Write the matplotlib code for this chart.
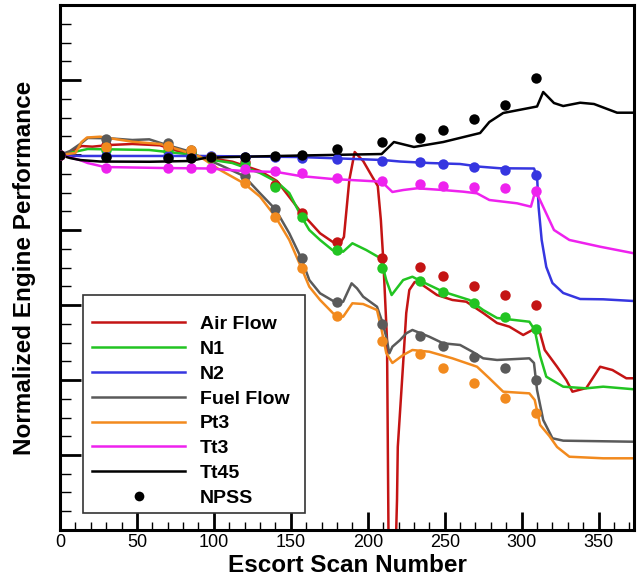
import matplotlib
matplotlib.use("Agg")
import matplotlib.pyplot as plt
from matplotlib.patches import Rectangle
from matplotlib.ticker import MultipleLocator, NullFormatter

plt.rcParams['font.family'] = ['Liberation Sans', 'DejaVu Sans']

# ---------------- data ----------------
airflow_x = [0, 5, 14, 21, 32, 47, 65, 78, 91, 112, 130, 141, 157, 169, 177, 182, 184.5, 188, 191.5, 197,
             203, 206.5, 208.5, 210, 211, 212.5, 214, 216.5, 219, 219.5, 223, 225, 227, 230.5, 234, 245, 255,
             264, 275, 284, 292, 301, 307, 312, 315, 323, 329, 333, 342, 351, 359, 368, 373]
airflow_y = [1.0, 1.0027, 1.012, 1.0111, 1.0133, 1.0147, 1.0129, 1.0044, 0.9977, 0.9911, 0.9787, 0.9653,
             0.9227, 0.8956, 0.8844, 0.8822, 0.8907, 0.9667, 1.004, 0.992, 0.9707, 0.9587, 0.9133, 0.8627,
             0.82, 0.7533, 0.35, 0.35, 0.54, 0.6107, 0.7227, 0.7893, 0.82, 0.8307, 0.8289, 0.8133, 0.8067,
             0.8044, 0.7893, 0.776, 0.7711, 0.76, 0.7667, 0.7623, 0.74, 0.7177, 0.7, 0.6844, 0.6893, 0.7177,
             0.7133, 0.7023, 0.7023]

n1_x = [0, 18, 58, 82, 95, 112, 130, 141, 149, 157, 162, 169, 177, 184, 190, 199, 208, 210, 212, 215.5,
        219, 223, 229, 234, 249, 266, 275, 284, 305, 308.5, 312, 316, 327, 342, 353, 373]
n1_y = [1.0, 1.008, 1.0067, 1.0013, 0.9947, 0.9893, 0.976, 0.964, 0.9493, 0.9173, 0.9, 0.8867, 0.8733,
        0.8711, 0.8823, 0.8733, 0.8627, 0.8493, 0.8333, 0.8133, 0.8227, 0.8333, 0.8377, 0.8324, 0.8177,
        0.8067, 0.7933, 0.7827, 0.7777, 0.7667, 0.732, 0.7044, 0.6911, 0.6889, 0.6911, 0.6876]

n2_x = [0, 13, 91, 156, 210, 221, 240, 260, 273, 286, 308, 310, 311, 313, 316, 320, 327, 338, 353, 373]
n2_y = [1.0, 0.9987, 0.9987, 0.9973, 0.9933, 0.9913, 0.9893, 0.988, 0.9844, 0.9823, 0.982, 0.972, 0.9307,
        0.8867, 0.8507, 0.8293, 0.816, 0.808, 0.8076, 0.8053]

fuel_x = [0, 6.5, 14, 18, 32, 47, 58, 69.5, 82.5, 91, 104, 119.5, 130, 140, 149, 157, 162, 169, 179, 184,
          189.5, 193, 197, 206, 209, 212, 214, 216, 221, 225, 229, 240, 249, 260, 268, 275, 284, 305, 308,
          310, 314, 320, 327, 373]
fuel_y = [1.0, 1.0053, 1.016, 1.0227, 1.0223, 1.02, 1.0209, 1.0133, 1.0057, 0.9977, 0.9867, 0.972, 0.9489,
          0.9276, 0.8956, 0.8613, 0.8333, 0.8156, 0.8036, 0.8044, 0.8289, 0.8222, 0.8111, 0.7977, 0.78,
          0.7577, 0.7356, 0.7444, 0.7533, 0.7622, 0.7667, 0.7577, 0.7489, 0.7467, 0.7377, 0.7289, 0.7267,
          0.7289, 0.7227, 0.6867, 0.6467, 0.6223, 0.6191, 0.6177]

pt3_x = [0, 10, 14, 17.5, 26, 47, 65, 78, 91, 104, 119.5, 130, 140, 149, 157, 162, 169, 179, 184, 190, 197,
         206, 209, 212, 216, 223, 229, 240, 255, 271, 279, 288, 305, 308.5, 312, 318, 323, 331, 353, 373]
pt3_y = [1.0, 1.0027, 1.0173, 1.0233, 1.0244, 1.0177, 1.0147, 1.0067, 0.9977, 0.98, 0.9623, 0.9444, 0.9177,
         0.8867, 0.8489, 0.8244, 0.8067, 0.7857, 0.7844, 0.8023, 0.8013, 0.7933, 0.7667, 0.736, 0.7227,
         0.7333, 0.74, 0.7377, 0.7289, 0.7177, 0.7023, 0.6844, 0.6822, 0.6733, 0.64, 0.6253, 0.6107, 0.5977,
         0.5956, 0.5956]

tt3_x = [0, 13, 18, 29, 65, 97, 119, 141, 156, 177, 209, 216, 223, 232, 249, 262, 271, 279, 297, 306, 308.5,
         311, 321, 331, 351, 373]
tt3_y = [1.0, 0.9933, 0.9893, 0.984, 0.9827, 0.982, 0.9787, 0.9773, 0.972, 0.968, 0.9644, 0.9507, 0.9533,
         0.9556, 0.9533, 0.9511, 0.9489, 0.94, 0.9356, 0.9311, 0.9493, 0.944, 0.9, 0.8867, 0.8777, 0.8689]

tt45_x = [0, 6.5, 13, 26, 58.4, 84.4, 94, 110, 156, 209, 217, 230, 249, 273, 279, 288, 305, 310, 314, 321,
          327, 338, 347, 362, 373]
tt45_y = [1.0, 0.996, 0.9933, 0.9913, 0.991, 0.992, 0.996, 0.9973, 0.9993, 1.0013, 1.0173, 1.0107, 1.0173,
          1.0293, 1.044, 1.056, 1.0627, 1.0647, 1.084, 1.0693, 1.0653, 1.0697, 1.068, 1.0564, 1.0564]

# NPSS model points
npss_x = [0, 30, 70, 85, 98, 120, 140, 157, 180, 209, 234, 249, 269, 289, 309]
npss_airflow = [1.0, 1.0133, 1.0107, 1.004, 0.9973, 0.9907, 0.96, 0.9227, 0.884, 0.8627, 0.8507, 0.8387,
                0.8253, 0.8133, 0.8]
npss_n1 = [1.0, 1.0067, 1.0053, 1.0027, 0.996, 0.988, 0.9573, 0.9173, 0.8733, 0.8493, 0.832, 0.8173,
           0.8027, 0.784, 0.768]
npss_n2 = [1.0, 0.9987, 0.9987, 0.9987, 0.9987, 0.9973, 0.9973, 0.996, 0.9947, 0.992, 0.9907, 0.988,
           0.984, 0.98, 0.9733]
npss_fuel = [1.0, 1.0213, 1.016, 1.0067, 0.9973, 0.972, 0.928, 0.8627, 0.804, 0.7747, 0.7587, 0.7453,
             0.7307, 0.716, 0.7]
npss_pt3 = [1.0, 1.0107, 1.012, 1.0067, 0.9973, 0.9627, 0.9173, 0.8493, 0.7853, 0.752, 0.7347, 0.716,
            0.696, 0.676, 0.656]
npss_tt3 = [1.0, 0.9827, 0.9827, 0.9827, 0.9827, 0.9813, 0.9787, 0.976, 0.9693, 0.9653, 0.9613, 0.9587,
            0.9573, 0.956, 0.952]
npss_tt45 = [1.0, 0.9973, 0.996, 0.996, 0.9973, 0.9973, 0.9987, 1.0, 1.008, 1.0173, 1.0227, 1.0333,
             1.048, 1.0667, 1.1027]

labels = ['Air Flow', 'N1', 'N2', 'Fuel Flow', 'Pt3', 'Tt3', 'Tt45', 'NPSS']
colors = ['#c41414', '#22c422', '#3636e0', '#5a5a5a', '#f28a1e', '#ee22ee', '#000000']

# ---------------- plot ----------------
fig = plt.figure(figsize=(6.37, 5.81), dpi=100)
ax = fig.add_axes([60 / 637, 1 - 530 / 581, 574 / 637, 525 / 581])

series = [(airflow_x, airflow_y, npss_airflow), (n1_x, n1_y, npss_n1), (n2_x, n2_y, npss_n2),
          (fuel_x, fuel_y, npss_fuel), (pt3_x, pt3_y, npss_pt3), (tt3_x, tt3_y, npss_tt3),
          (tt45_x, tt45_y, npss_tt45)]

handles = []
for (sx, sy, npss), c, lab in zip(series, colors, labels):
    h, = ax.plot(sx, sy, color=c, lw=1.8, label=lab, zorder=2)
    handles.append(h)
for (sx, sy, npss), c in zip(series, colors):
    ax.plot(npss_x, npss, 'o', color=c, ms=7.5, mec='none', zorder=3)
hn, = ax.plot([], [], 'o', color='black', ms=7, mec='none', label='NPSS')
handles.append(hn)

ax.set_xlim(0, 373)
ax.set_ylim(0.5, 1.2)
ax.xaxis.set_major_locator(MultipleLocator(50))
ax.xaxis.set_minor_locator(MultipleLocator(10))
ax.yaxis.set_major_locator(MultipleLocator(0.1))
ax.yaxis.set_minor_locator(MultipleLocator(0.025))
ax.yaxis.set_major_formatter(NullFormatter())
ax.tick_params(which='both', direction='in', top=False, right=False)
ax.tick_params(which='major', length=13, width=2)
ax.tick_params(which='minor', length=6, width=1)
ax.tick_params(axis='y', which='major', length=15)
ax.tick_params(axis='y', which='minor', length=8)
ax.tick_params(axis='x', labelsize=13, pad=3)
for sp in ax.spines.values():
    sp.set_linewidth(2.2)

ax.set_xlabel('Escort Scan Number', fontsize=17.5, fontweight='bold', labelpad=2)
ax.set_ylabel('Normalized Engine Performance', fontsize=17.5, fontweight='bold', labelpad=14)

# legend frame (drawn separately to match the original padding)
frame = Rectangle((0.0401, 0.0324), 0.3867, 0.4152, transform=ax.transAxes, facecolor='white',
                  edgecolor='#333333', lw=1.2, zorder=4)
ax.add_patch(frame)
leg = ax.legend(handles=handles, loc='lower left', bbox_to_anchor=(0.0557, 0.044), borderaxespad=0,
                frameon=False, handlelength=4.8, handletextpad=0.75, labelspacing=0.37, borderpad=0,
                prop={'size': 14, 'weight': 'bold'})
leg.set_zorder(5)

fig.savefig('out.png', dpi=100)
